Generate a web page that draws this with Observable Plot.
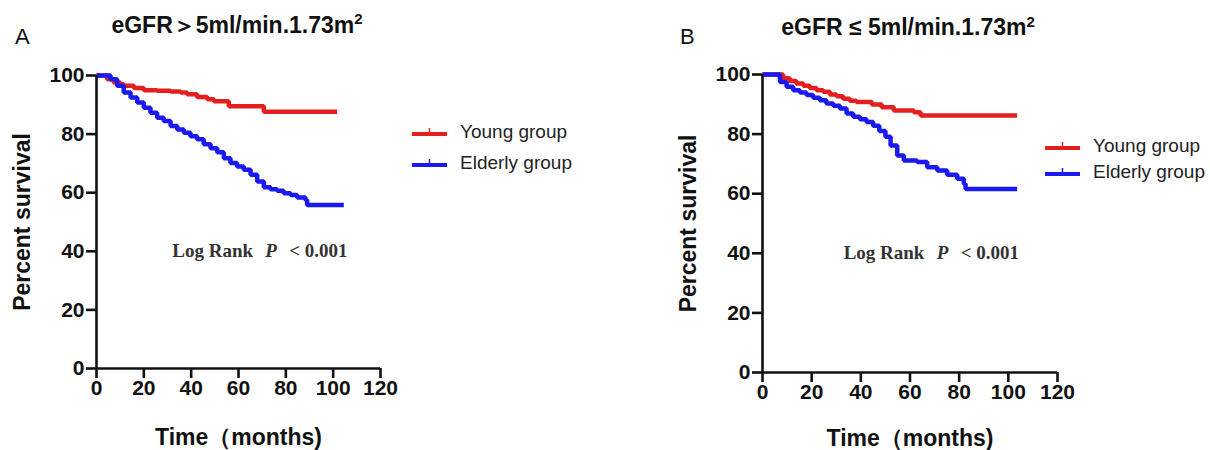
<!DOCTYPE html>
<html>
<head>
<meta charset="utf-8">
<script src="https://cdn.jsdelivr.net/npm/d3@7"></script>
<script src="https://cdn.jsdelivr.net/npm/@observablehq/plot@0.6"></script>
<style>
  body { margin: 0; background: #fff; }
  #wrap { position: relative; width: 1210px; height: 450px; overflow: hidden; font-family: "Liberation Sans", Arial, sans-serif; }
  .panel { position: absolute; top: 0; }
  .title { position: absolute; font-weight: bold; font-size: 23px; color: #111; white-space: nowrap; transform: translate(-50%, -50%); }
  .title sup { font-size: 15px; }
  .letter { position: absolute; font-size: 22px; color: #111; transform: translate(0, -50%); }
  .leg { position: absolute; font-size: 19px; color: #222; white-space: nowrap; display: flex; align-items: center; transform: translate(0, -50%); }
  .leg svg { margin-right: 13px; }
</style>
</head>
<body>
<div id="wrap"></div>
<script>
// ---------- data ----------
const groups = ["Young group", "Elderly group"];
const groupColors = ["#e3201f", "#1a1af0"];
const xTicks = [0, 20, 40, 60, 80, 100, 120];
const yTicks = [0, 20, 40, 60, 80, 100];

// Panel A: eGFR > 5
const aYoungMonths = [0, 1.7, 4.5, 7.3, 10.1, 11.5, 15.8, 20, 25.6, 31.3, 35.5, 38.3, 42.5, 46.8, 49.6, 55.9, 70.7, 101.7];
const aYoungPct    = [100, 100, 98.7, 97.6, 97.0, 96.5, 95.7, 95.0, 94.8, 94.5, 94.2, 93.6, 92.7, 91.9, 91.2, 89.5, 87.6, 87.6];
const aElderMonths = [0, 3.8, 5.9, 8.7, 11.5, 14.4, 17.2, 20, 22.8, 25.6, 28.4, 31.3, 34.1, 36.9, 39.7, 42.5, 45.3, 48.2, 51, 53.8, 56.6, 59.4, 62.2, 65.1, 67.9, 70.7, 73.5, 76.3, 79.1, 82, 84.8, 88.3, 89, 104.5];
const aElderPct    = [100, 100, 98.7, 96.5, 94.2, 92.5, 90.8, 89.0, 87.3, 85.6, 84.5, 82.8, 81.6, 80.5, 79.3, 78.2, 76.5, 75.2, 73.8, 71.8, 70.1, 68.9, 67.8, 66.1, 63.8, 61.9, 61.2, 60.7, 59.8, 59.2, 58.4, 57.5, 55.8, 55.8];

// Panel B: eGFR <= 5
const bYoungMonths = [0, 5.7, 8.4, 11.1, 13.8, 16.6, 19.2, 22, 24.7, 27.4, 30.1, 32.8, 35.5, 38.2, 44.5, 48.5, 53.4, 61.6, 64.3, 103.6];
const bYoungPct    = [100, 100, 98.7, 97.8, 97.0, 96.2, 95.5, 94.7, 94.2, 93.3, 92.7, 91.9, 91.2, 90.8, 89.9, 89.0, 87.9, 87.3, 86.2, 86.2];
const bElderMonths = [0, 4.3, 7.1, 9.8, 12.5, 15.2, 17.9, 20.6, 23.3, 26, 28.8, 31.5, 34.2, 36.9, 39.6, 42.3, 45, 47.5, 50, 52.1, 54.8, 57.5, 62.9, 67, 71.1, 75.1, 79.2, 81.9, 82.6, 103.6];
const bElderPct    = [100, 100, 97.5, 95.9, 94.7, 94.0, 93.1, 92.2, 91.4, 90.3, 89.5, 88.6, 86.9, 85.8, 85.0, 84.1, 82.8, 81.0, 79.1, 76.2, 72.8, 71.1, 70.6, 68.9, 67.8, 66.4, 65.0, 63.3, 61.6, 61.6];

const panelTitles = ["eGFR\uFF1E5ml/min.1.73m", "eGFR \u2264 5ml/min.1.73m"];
const panelLetters = ["A", "B"];
const xLabel = "Time\uFF08months)";
const yLabel = "Percent survival";
const logRankText = ["Log Rank", "P", "< 0.001"];
const logRankPos = [[32, 40], [33, 40]];

// ---------- build ----------
function rows(months, pct, group) {
  return months.map((m, i) => ({month: m, pct: pct[i], group}));
}
const panels = [
  {data: [...rows(aYoungMonths, aYoungPct, groups[0]), ...rows(aElderMonths, aElderPct, groups[1])],
   left: 0, m: {marginLeft: 96, marginRight: 225, marginTop: 75, marginBottom: 82}, xlabDy: 69,
   titleX: 237, titleY: 25, letterX: 15, letterY: 37, legX: 412, legY: [132, 163]},
  {data: [...rows(bYoungMonths, bYoungPct, groups[0]), ...rows(bElderMonths, bElderPct, groups[1])],
   left: 605, m: {marginLeft: 157, marginRight: 153, marginTop: 74, marginBottom: 78}, xlabDy: 66,
   titleX: 908, titleY: 27, letterX: 680, letterY: 37, legX: 1045, legY: [146, 172]}
];

const serif = "'Liberation Serif', 'Times New Roman', serif";
const wrap = document.getElementById("wrap");
panels.forEach((p, k) => {
  const [lx, ly] = logRankPos[k];
  const svg = Plot.plot({
    width: 605, height: 450, ...p.m,
    style: {fontFamily: "'Liberation Sans', Arial, sans-serif", color: "#111", background: "transparent"},
    x: {domain: [0, 120]},
    y: {domain: [0, 100]},
    color: {domain: groups, range: groupColors},
    marks: [
      Plot.line(p.data, {x: "month", y: "pct", stroke: "group", z: "group", curve: "step-after", strokeWidth: 4.5, strokeLinejoin: "miter", strokeLinecap: "butt"}),
      Plot.ruleX([0], {y1: 0, y2: 100, strokeWidth: 2.6, stroke: "#111"}),
      Plot.ruleY([0], {x1: 0, x2: 120, strokeWidth: 2.6, stroke: "#111"}),
      Plot.axisX({ticks: xTicks, tickSize: 10, tickPadding: 2, strokeWidth: 2.6, fontSize: 21, fontWeight: "bold", label: null, stroke: "#111"}),
      Plot.axisY({ticks: yTicks, tickSize: 10, tickPadding: 2, strokeWidth: 2.6, fontSize: 21, fontWeight: "bold", label: null, stroke: "#111"}),
      Plot.text([yLabel], {frameAnchor: "left", textAnchor: "middle", lineAnchor: "middle", rotate: -90, dx: -74, fontSize: 23, fontWeight: "bold", text: d => d, fill: "#111"}),
      Plot.text([xLabel], {frameAnchor: "bottom", textAnchor: "middle", lineAnchor: "middle", dy: p.xlabDy, fontSize: 23, fontWeight: "bold", text: d => d, fill: "#111"}),
      Plot.text([logRankText[0]], {x: () => lx, y: () => ly, text: d => d, textAnchor: "start", fontFamily: serif, fontWeight: "bold", fontSize: 19, fill: "#333"}),
      Plot.text([logRankText[1]], {x: () => lx, y: () => ly, text: d => d, textAnchor: "start", dx: 93, fontFamily: serif, fontWeight: "bold", fontStyle: "italic", fontSize: 19, fill: "#333"}),
      Plot.text([logRankText[2]], {x: () => lx, y: () => ly, text: d => d, textAnchor: "start", dx: 117, fontFamily: serif, fontWeight: "bold", fontSize: 19, fill: "#333"})
    ]
  });
  svg.classList.add("panel");
  svg.style.left = p.left + "px";
  wrap.appendChild(svg);

  const t = document.createElement("div");
  t.className = "title";
  t.style.left = p.titleX + "px"; t.style.top = p.titleY + "px";
  t.innerHTML = panelTitles[k] + "<sup>2</sup>";
  wrap.appendChild(t);

  const L = document.createElement("div");
  L.className = "letter";
  L.style.left = p.letterX + "px"; L.style.top = p.letterY + "px";
  L.textContent = panelLetters[k];
  wrap.appendChild(L);

  groups.forEach((g, i) => {
    const d = document.createElement("div");
    d.className = "leg";
    d.style.left = p.legX + "px"; d.style.top = p.legY[i] + "px";
    d.innerHTML = `<svg width="35" height="12"><line x1="0" x2="35" y1="8" y2="8" stroke="${groupColors[i]}" stroke-width="4"/><line x1="17.5" x2="17.5" y1="2" y2="8" stroke="${groupColors[i]}" stroke-width="1.5"/></svg>`;
    const s = document.createElement("span"); s.textContent = g; d.appendChild(s);
    wrap.appendChild(d);
  });
});
</script>
</body>
</html>
